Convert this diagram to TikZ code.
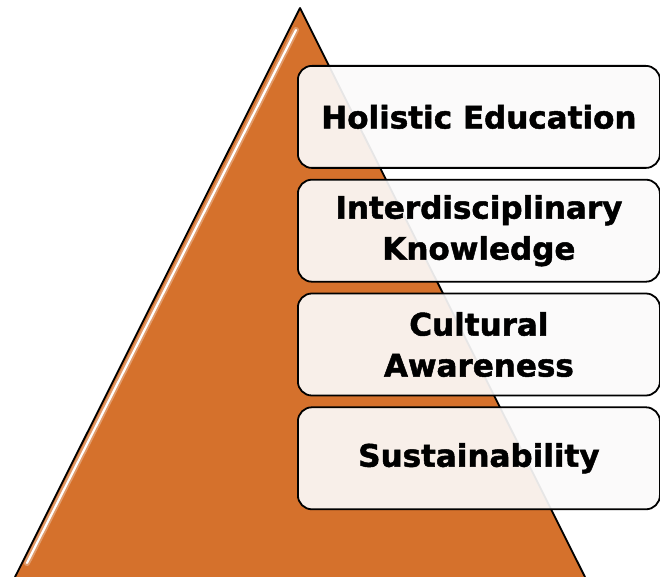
\documentclass[tikz,border=0pt]{standalone}
\usepackage{fontspec}
\newfontfamily\levelfont{DejaVu Sans Bold}[FakeBold=1.6]
\usepackage{tikz}
\usetikzlibrary{positioning,calc}
\definecolor{pyramid}{HTML}{D5712C}
\definecolor{boxfill}{HTML}{FBFAFA}
\tikzset{
  level/.style={draw=black, line width=1.8pt, rounded corners=14pt,
    fill=boxfill, fill opacity=0.92, text opacity=1,
    minimum width=362pt, minimum height=102pt, align=center, inner sep=0pt,
    font=\levelfont\fontsize{31}{41}\selectfont},
}

\begin{document}
\begin{tikzpicture}[x=1pt,y=-1pt]
\useasboundingbox (0,0) rectangle (660,577);
\coordinate (T) at (300,8);
\coordinate (L) at (15,577);
\coordinate (R) at (585,577);
\fill[pyramid] (T) -- (L) -- (R) -- cycle;
% glossy edge
\coordinate (gt) at (296,30);
\coordinate (gb) at (27,563);
\draw[white, line width=6pt, line cap=round, opacity=0.3] (gt) -- (gb);
\draw[white, line width=2.2pt, line cap=round] (gt) -- (gb);
\draw[black, line width=1.8pt, line join=round] (L) -- (T) -- (R);
\node[level, anchor=north west] (holistic) at (297,65) {Holistic Education};
\node[level, below=10pt of holistic] (interdisc) {Interdisciplinary\\Knowledge};
\node[level, below=10pt of interdisc] (cultural) {Cultural\\Awareness};
\node[level, below=10pt of cultural] (sustain) {Sustainability};
\end{tikzpicture}
\end{document}
